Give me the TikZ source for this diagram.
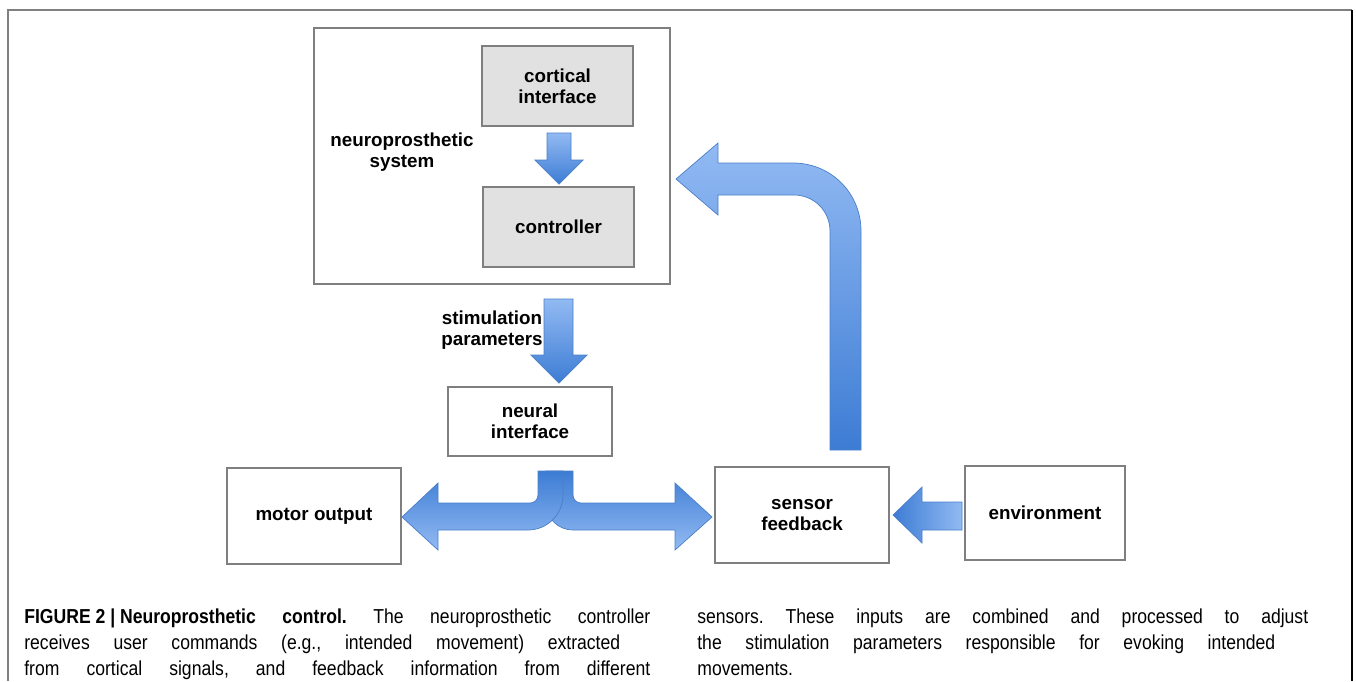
\documentclass[tikz,border=0pt]{standalone}
\usepackage{fontspec}
\setmainfont{Liberation Sans}
\newfontfamily\capfont[FakeStretch=0.87]{Liberation Sans}
\usetikzlibrary{shadows}

\definecolor{framegray}{HTML}{808080}
\definecolor{boxgray}{HTML}{7F7F7F}
\definecolor{boxfill}{HTML}{E1E1E1}
\definecolor{arrowlight}{HTML}{92BAF3}
\definecolor{arrowdark}{HTML}{3D7CD4}
\definecolor{arrowedge}{HTML}{4A7FC8}

\tikzset{
  blockbox/.style={draw=boxgray,line width=1.1pt,fill=white,align=center,
    font=\fontsize{10.7}{12}\selectfont\bfseries,
    drop shadow={shadow xshift=0.7pt,shadow yshift=-0.7pt,opacity=0.25}},
  plainlabel/.style={align=center,font=\fontsize{10.7}{12}\selectfont\bfseries},
  blockarrow/.style={draw=arrowedge,line width=0.4pt},
  capline/.style={anchor=base west,inner sep=0pt,font=\capfont\fontsize{11.5}{14}\selectfont\frenchspacing}
}

\begin{document}
\begin{tikzpicture}[x=0.02cm,y=-0.02cm]
  \useasboundingbox (0,0) rectangle (1356,681);
  % outer frame
  \draw[framegray,line width=1.1pt] (8,681) -- (8,10) -- (1352,10);
  \draw[black,line width=1.1pt] (1352,10) -- (1352,681);

  % boxes
  \node[blockbox,minimum width=7.12cm,minimum height=5.12cm] (sys) at (492,156) {};
  \node[blockbox,fill=boxfill,minimum width=3.02cm,minimum height=1.6cm] (cortical) at (557.5,86) {cortical\\interface};
  \node[blockbox,fill=boxfill,minimum width=3.02cm,minimum height=1.6cm] (ctrl) at (558.5,227) {controller};
  \node[blockbox,minimum width=3.28cm,minimum height=1.38cm] (neural) at (530,421.5) {neural\\interface};
  \node[blockbox,minimum width=3.48cm,minimum height=1.92cm] (motor) at (314,516) {motor output};
  \node[blockbox,minimum width=3.48cm,minimum height=1.92cm] (sensor) at (802,515) {sensor\\feedback};
  \node[blockbox,minimum width=3.2cm,minimum height=1.88cm] (env) at (1045,513) {environment};
  \node[plainlabel] (sysl) at (402,152) {neuroprosthetic\\system};
  \node[plainlabel] (stiml) at (492,330) {stimulation\\parameters};

  % block arrows
  \shadedraw[blockarrow,top color=arrowlight,bottom color=arrowdark] (547,133) -- (571,133) -- (571,160) -- (583,160) -- (559,184) -- (535,160) -- (547,160) -- cycle;
  \shadedraw[blockarrow,top color=arrowlight,bottom color=arrowdark] (544,299) -- (573,299) -- (573,355) -- (587,355) -- (559,383) -- (531,355) -- (544,355) -- cycle;
  \shadedraw[blockarrow,left color=arrowdark,right color=arrowlight] (962,502) -- (922,502) -- (922,487) -- (893,515) -- (922,543) -- (922,530) -- (962,530) -- cycle;
  \shadedraw[blockarrow,top color=arrowlight,bottom color=arrowdark] (830,450) -- (861,450) -- (861,231) .. controls (861,193) and (831,163) .. (793,163) -- (718,163) -- (718,143) -- (676,179) -- (718,215) -- (718,195) -- (794,195) .. controls (814,195) and (830,211) .. (830,231) -- cycle;
  % split arrow from neural interface
  \shadedraw[blockarrow,top color=arrowdark,bottom color=arrowlight] (546,471) -- (573,471) -- (573,495) .. controls (573,499.4) and (576.6,503) .. (581,503) -- (675,503) -- (675,483) -- (712,517) -- (675,550) -- (675,530) -- (573,530) .. controls (558,530) and (546,518) .. (546,503) -- cycle;
  \shadedraw[blockarrow,top color=arrowdark,bottom color=arrowlight] (538,471) -- (563,471) -- (563,495) .. controls (563,514.3) and (547.3,530) .. (528,530) -- (438,530) -- (438,550) -- (402,517) -- (438,483) -- (438,503) -- (530,503) .. controls (534.4,503) and (538,499.4) .. (538,495) -- cycle;

  % caption
  \node[capline] (capa) at (24,623) {\makebox[12.52cm][s]{\mbox{\textbf{FIGURE 2 | Neuroprosthetic}} \textbf{control.} The neuroprosthetic controller}};
  \node[capline] (capb) at (24,649) {\makebox[11.92cm][s]{receives user commands (e.g., intended movement) extracted}};
  \node[capline] (capc) at (24,675) {\makebox[12.52cm][s]{from cortical signals, and feedback information from different}};
  \node[capline] (capd) at (697,623) {\makebox[12.22cm][s]{sensors. These inputs are combined and processed to adjust}};
  \node[capline] (cape) at (697,649) {\makebox[11.56cm][s]{the stimulation parameters responsible for evoking intended}};
  \node[capline] (capf) at (697,675) {movements.};
\end{tikzpicture}
\end{document}
